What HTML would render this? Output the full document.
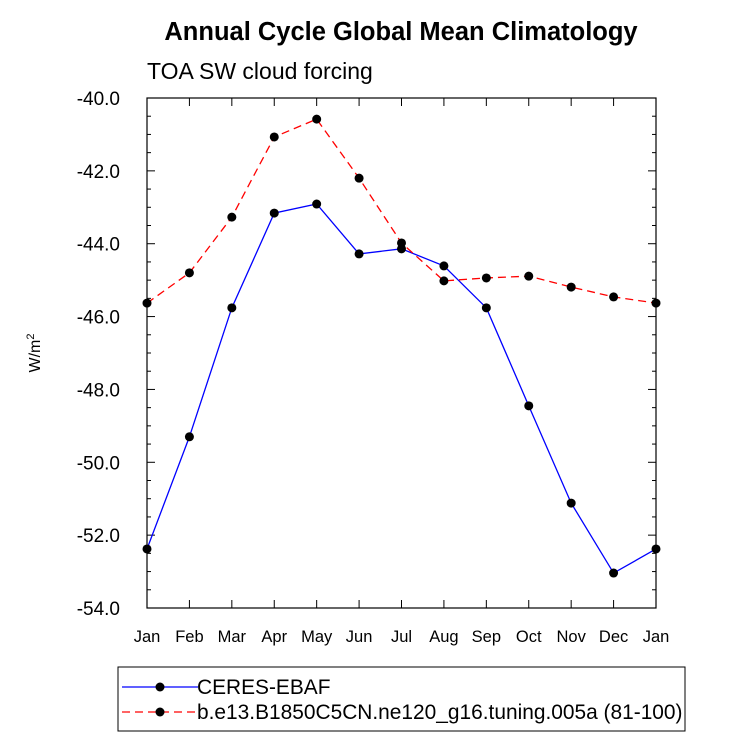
<!DOCTYPE html>
<html><head><meta charset="utf-8"><style>
body{margin:0;background:#fff;font-family:"Liberation Sans",sans-serif}
</style></head><body>
<svg id="c" width="733" height="741" xmlns="http://www.w3.org/2000/svg">
<text x="401" y="40" text-anchor="middle" font-size="25.5" font-weight="bold">Annual Cycle Global Mean Climatology</text>
<text x="147" y="79" font-size="23">TOA SW cloud forcing</text>
<text transform="translate(40,353) rotate(-90)" text-anchor="middle" font-size="16">W/m<tspan dy="-6" font-size="11">2</tspan></text>
<g id="axes"></g><g id="series"></g>
<rect x="118" y="667" width="567" height="64" fill="none" stroke="#000" stroke-width="1"/>
<g>
<line x1="122" y1="687" x2="198" y2="687" stroke="#00f" stroke-width="1.2"/><circle cx="160" cy="687" r="4.5"/>
<text x="197" y="694" font-size="20.9">CERES-EBAF</text></g>
<g>
<line x1="122" y1="712" x2="198" y2="712" stroke="#f00" stroke-width="1.2" stroke-dasharray="8,5"/><circle cx="160" cy="712" r="4.5"/>
<text x="197" y="719" font-size="20.9">b.e13.B1850C5CN.ne120_g16.tuning.005a (81-100)</text></g>
</svg>
<script>
const months=["Jan","Feb","Mar","Apr","May","Jun","Jul","Aug","Sep","Oct","Nov","Dec","Jan"];
const ceres=[-52.38,-49.3,-45.76,-43.16,-42.91,-44.28,-44.14,-44.61,-45.76,-48.45,-51.12,-53.04,-52.38];
const model=[-45.63,-44.80,-43.27,-41.07,-40.58,-42.20,-43.98,-45.02,-44.94,-44.89,-45.19,-45.46,-45.63];
const yTicks=[-40,-42,-44,-46,-48,-50,-52,-54];
const L=147,R=656,T=98,B=608,yMax=-40,yMin=-54;
const xs=i=>L+(R-L)*i/(months.length-1);
const ys=v=>T+(yMax-v)/(yMax-yMin)*(B-T);
const NS="http://www.w3.org/2000/svg";
function mk(t,a,p){const e=document.createElementNS(NS,t);for(const k in a)e.setAttribute(k,a[k]);p.appendChild(e);return e;}
const ax=document.getElementById('axes'),sr=document.getElementById('series');
const fr=mk('rect',{x:L,y:T,width:R-L,height:B-T,fill:'none',stroke:'#000','stroke-width':1.2},ax);


for(let v=yMax;v>=yMin-1e-9;v-=0.5){const y=ys(v);const maj=Math.abs(v/2-Math.round(v/2))<1e-6;const len=maj?8:4;
mk('line',{x1:L,y1:y,x2:L+len,y2:y,stroke:'#000'},ax);mk('line',{x1:R,y1:y,x2:R-len,y2:y,stroke:'#000'},ax);}
yTicks.forEach(v=>{const t=mk('text',{x:L-27,y:ys(v)+7,'text-anchor':'end','font-size':19},ax);t.textContent=v.toFixed(1);

});
months.forEach((m,i)=>{const x=xs(i);mk('line',{x1:x,y1:B,x2:x,y2:B-8,stroke:'#000'},ax);mk('line',{x1:x,y1:T,x2:x,y2:T+8,stroke:'#000'},ax);
const t=mk('text',{x:x,y:B+34,'text-anchor':'middle','font-size':16.5},ax);t.textContent=m;

});
function draw(d,col,dash,name){const g=mk('g',{},sr);


const a={points:d.map((v,i)=>xs(i)+','+ys(v)).join(' '),fill:'none',stroke:col,'stroke-width':1.3};if(dash)a['stroke-dasharray']=dash;mk('polyline',a,g);
d.forEach((v,i)=>{const c=mk('circle',{cx:xs(i),cy:ys(v),r:4.5},g);

});}
draw(ceres,'#00f',null,'series-ceres');
draw(model,'#f00','8,5','series-model');
</script>
</body></html>
